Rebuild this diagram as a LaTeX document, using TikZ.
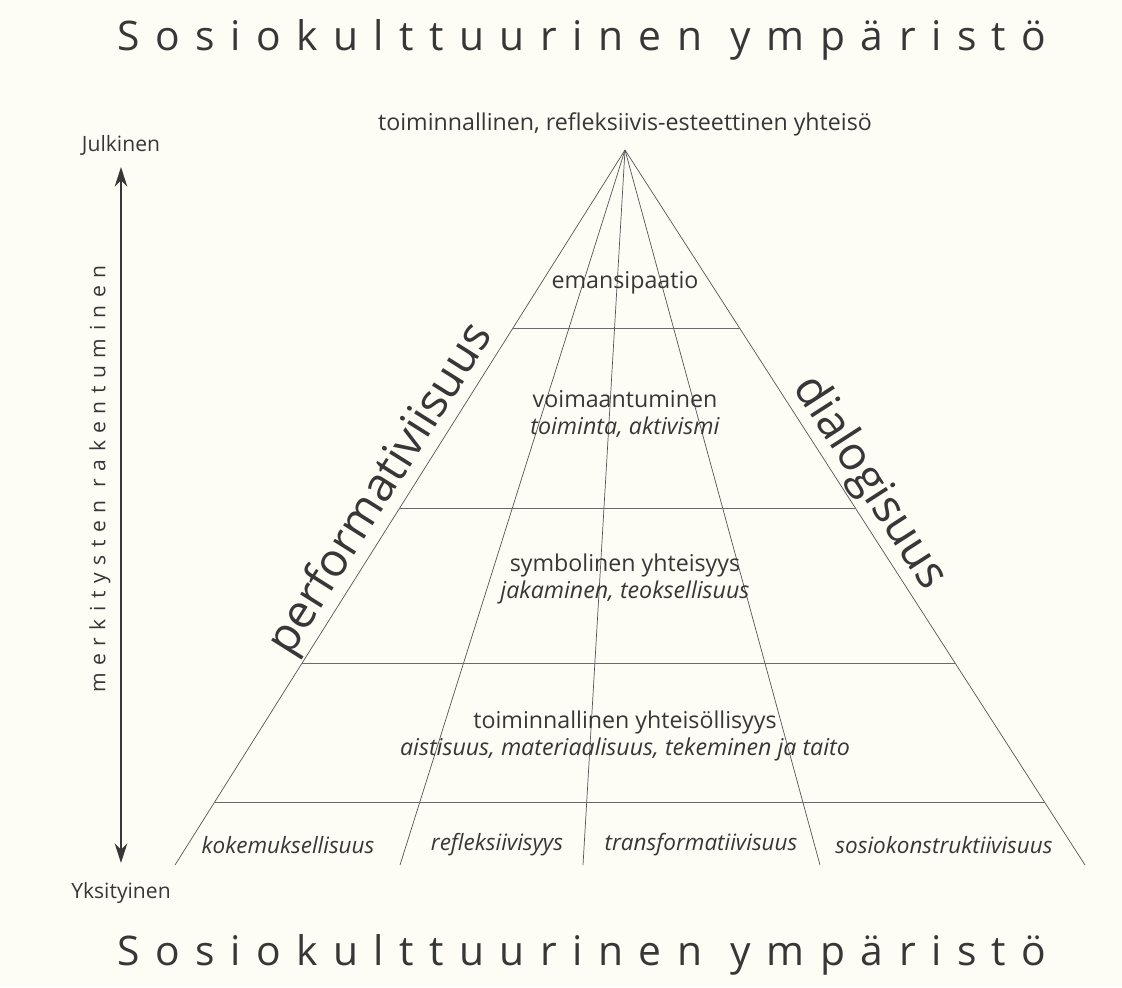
\documentclass[tikz,border=0pt]{standalone}
\usepackage{fontspec}
\setmainfont{Open Sans}
\usetikzlibrary{calc,arrows.meta}

\definecolor{paper}{RGB}{253,253,246}
\definecolor{ink}{RGB}{55,55,55}

\begin{document}
\begin{tikzpicture}[x=0.025cm,y=-0.025cm,
    title/.style={font=\fontsize{29}{34}\selectfont\addfontfeature{LetterSpace=38},text=ink},
    level/.style={font=\fontsize{16.5}{19}\selectfont,text=ink,align=center,inner sep=1pt},
    cell/.style={font=\fontsize{16}{19}\selectfont\itshape,text=ink,inner sep=1pt},
    axis/.style={font=\fontsize{15}{18}\selectfont,text=ink,inner sep=1pt},
    side/.style={font=\fontsize{33}{38}\selectfont,text=ink,inner sep=1pt,anchor=south},
    edge/.style={draw=ink!85,line width=0.5pt},
    rung/.style={draw=ink!75,line width=0.5pt},
    arrow/.style={{Stealth[length=14pt,width=9pt]}-{Stealth[length=14pt,width=9pt]},line width=1pt,ink}
]

% Paper
\fill[paper] (0,0) rectangle (1122,987);

% Titles
\node[title] (top) at (582,40) {Sosiokulttuurinen\hspace{0.7em}ympäristö};
\node[title] (bottom) at (582,955) {Sosiokulttuurinen\hspace{0.7em}ympäristö};

% Axis
\node[axis] (julkinen) at (121,145) {Julkinen};
\node[axis] (yksityinen) at (121,893) {Yksityinen};
\coordinate (up) at (121,167);
\coordinate (down) at (121,863);
\draw[arrow] (down) -- (up);
\node[axis,rotate=90,font=\fontsize{15}{18}\selectfont\addfontfeature{LetterSpace=36}] (meaning) at (100,479) {merkitysten rakentuminen};

% Pyramid
\coordinate (apex) at (625,150);
\coordinate (bl) at (175,865);
\coordinate (b1) at (400,865);
\coordinate (b2) at (583,865);
\coordinate (b3) at (820,865);
\coordinate (br) at (1085,865);
\node[level,anchor=south] (community) at (625,138) {toiminnallinen, refleksiivis-esteettinen yhteisö};

\foreach \b in {bl,b1,b2,b3,br}
  \draw[edge] (apex) -- (\b);

\foreach \t/\n in {0.249/r1,0.5007/r2,0.7175/r3,0.912/r4}
  \draw[rung] ($(apex)!\t!(bl)$) coordinate (\n l) -- ($(apex)!\t!(br)$) coordinate (\n r);

% Levels
\node[level] (emansipaatio) at (625,283) {emansipaatio};
\node[level] (voima) at (625,414) {voimaantuminen\\\itshape toiminta, aktivismi};
\node[level] (symboli) at (625,579) {symbolinen yhteisyys\\\itshape jakaminen, teoksellisuus};
\node[level] (yhteiso) at (625,736) {toiminnallinen yhteisöllisyys\\\itshape aistisuus, materiaalisuus, tekeminen ja taito};

% Bottom cells
\node[cell] (kokemus) at (288,845) {kokemuksellisuus};
\node[cell] (refleksi) at (497,845) {refleksiivisyys};
\node[cell] (transf) at (701,845) {transformatiivisuus};
\node[cell] (sosio) at (944,845) {sosiokonstruktiivisuus};

% Sides
\node[side,rotate=57.8] (perf) at ($(apex)!0.494!(bl)$) {performativiisuus};
\node[side,rotate=-57.2] (dialog) at ($(apex)!0.485!(br)$) {dialogisuus};

\end{tikzpicture}
\end{document}
